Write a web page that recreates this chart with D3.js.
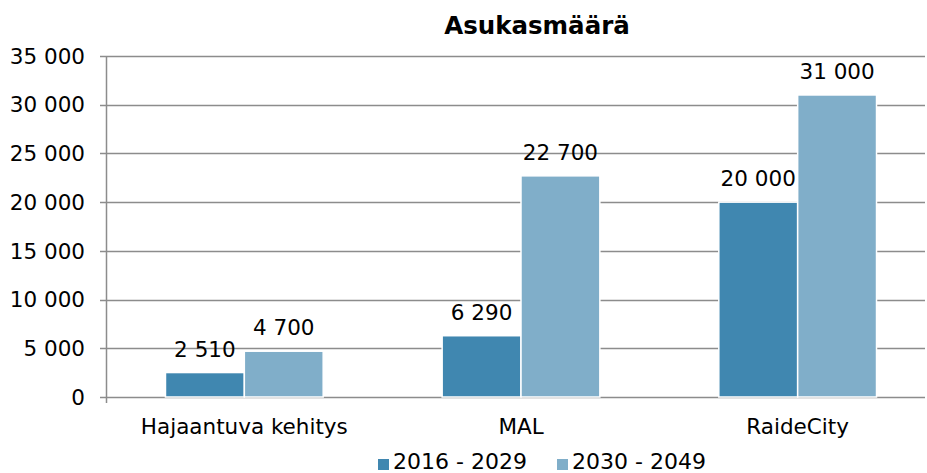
<!DOCTYPE html>
<html>
<head>
<meta charset="utf-8">
<script src="https://cdn.jsdelivr.net/npm/d3@7"></script>
<style>
  body { margin: 0; background: #fff; }
  text { font-family: "DejaVu Sans", Verdana, sans-serif; fill: #000; }
</style>
</head>
<body>
<div id="chart"></div>
<script>
// Data________________________________________________________________
const categories = ['Hajaantuva kehitys', 'MAL', 'RaideCity'];
const seriesNames = ['2016 - 2029', '2030 - 2049'];
const series1 = [2510, 6290, 20000];
const series2 = [4700, 22700, 31000];
const yTicks = [0, 5000, 10000, 15000, 20000, 25000, 30000, 35000];
const colors = ['#4087b0', '#80aec9'];

// Setup_______________________________________________________________
const width = 927;
const height = 473;
const margin = { top: 56, left: 106, bottom: 76 };
const plotRight = 936;
const fontSize = '21.5px';
const fmt = d => d3.format(',')(d).replace(/,/g, ' ');

const svg = d3.select('#chart')
    .append('svg')
    .attr('width', width)
    .attr('height', height);

const x = d3.scaleBand()
    .domain(categories)
    .range([margin.left, plotRight])
    .paddingInner(0.43)
    .paddingOuter(0.215);

const xSub = d3.scaleBand()
    .domain([0, 1])
    .range([0, x.bandwidth()]);

const y = d3.scaleLinear()
    .domain([0, 35000])
    .range([height - margin.bottom, margin.top]);

// Grid + y axis_______________________________________________________
svg.append('g')
    .selectAll('line')
    .data(yTicks)
    .enter()
    .append('line')
    .attr('x1', margin.left - 6)
    .attr('x2', 925)
    .attr('y1', d => Math.round(y(d)) + 0.5)
    .attr('y2', d => Math.round(y(d)) + 0.5)
    .attr('stroke', '#8c8c8c')
    .attr('stroke-width', 1.5);

svg.append('line')
    .attr('x1', margin.left + 0.5)
    .attr('x2', margin.left + 0.5)
    .attr('y1', y(35000))
    .attr('y2', y(0) + 6)
    .attr('stroke', '#8c8c8c')
    .attr('stroke-width', 1.5);

svg.append('g')
    .selectAll('text')
    .data(yTicks)
    .enter()
    .append('text')
    .attr('x', 85)
    .attr('y', d => y(d))
    .attr('dy', '0.36em')
    .attr('text-anchor', 'end')
    .style('font-size', fontSize)
    .text(d => fmt(d));

// Bars________________________________________________________________
const rows = categories.map((c, i) => ({ cat: c, vals: [series1[i], series2[i]] }));

const groups = svg.append('g')
    .selectAll('g')
    .data(rows)
    .enter()
    .append('g')
    .attr('transform', d => `translate(${x(d.cat)},0)`);

groups.selectAll('rect')
    .data(d => d.vals.map((v, j) => ({ v, j })))
    .enter()
    .append('rect')
    .attr('x', d => xSub(d.j))
    .attr('width', xSub.bandwidth())
    .attr('y', d => y(d.v))
    .attr('height', d => y(0) - y(d.v))
    .attr('fill', d => colors[d.j])
    .attr('stroke', '#fff')
    .attr('stroke-width', 1.5);

groups.selectAll('text')
    .data(d => d.vals.map((v, j) => ({ v, j })))
    .enter()
    .append('text')
    .attr('x', d => xSub(d.j) + xSub.bandwidth() / 2)
    .attr('y', d => y(d.v) - 16)
    .attr('text-anchor', 'middle')
    .style('font-size', fontSize)
    .text(d => fmt(d.v));

// X labels____________________________________________________________
svg.append('g')
    .selectAll('text')
    .data(categories)
    .enter()
    .append('text')
    .attr('x', d => x(d) + x.bandwidth() / 2)
    .attr('y', 434)
    .attr('text-anchor', 'middle')
    .style('font-size', fontSize)
    .text(d => d);

// Title_______________________________________________________________
svg.append('text')
    .attr('x', 537)
    .attr('y', 34)
    .attr('text-anchor', 'middle')
    .style('font-size', '24.5px')
    .style('font-weight', 'bold')
    .text('Asukasmäärä');

// Legend______________________________________________________________
const legendX = [378, 557];
const legend = svg.append('g')
    .selectAll('g')
    .data(seriesNames)
    .enter()
    .append('g')
    .attr('transform', (d, i) => `translate(${legendX[i]},0)`);

legend.append('rect')
    .attr('x', 0)
    .attr('y', 459)
    .attr('width', 11)
    .attr('height', 11)
    .attr('fill', (d, i) => colors[i]);

legend.append('text')
    .attr('x', 15)
    .attr('y', 469)
    .style('font-size', '22px')
    .text(d => d);
</script>
</body>
</html>
